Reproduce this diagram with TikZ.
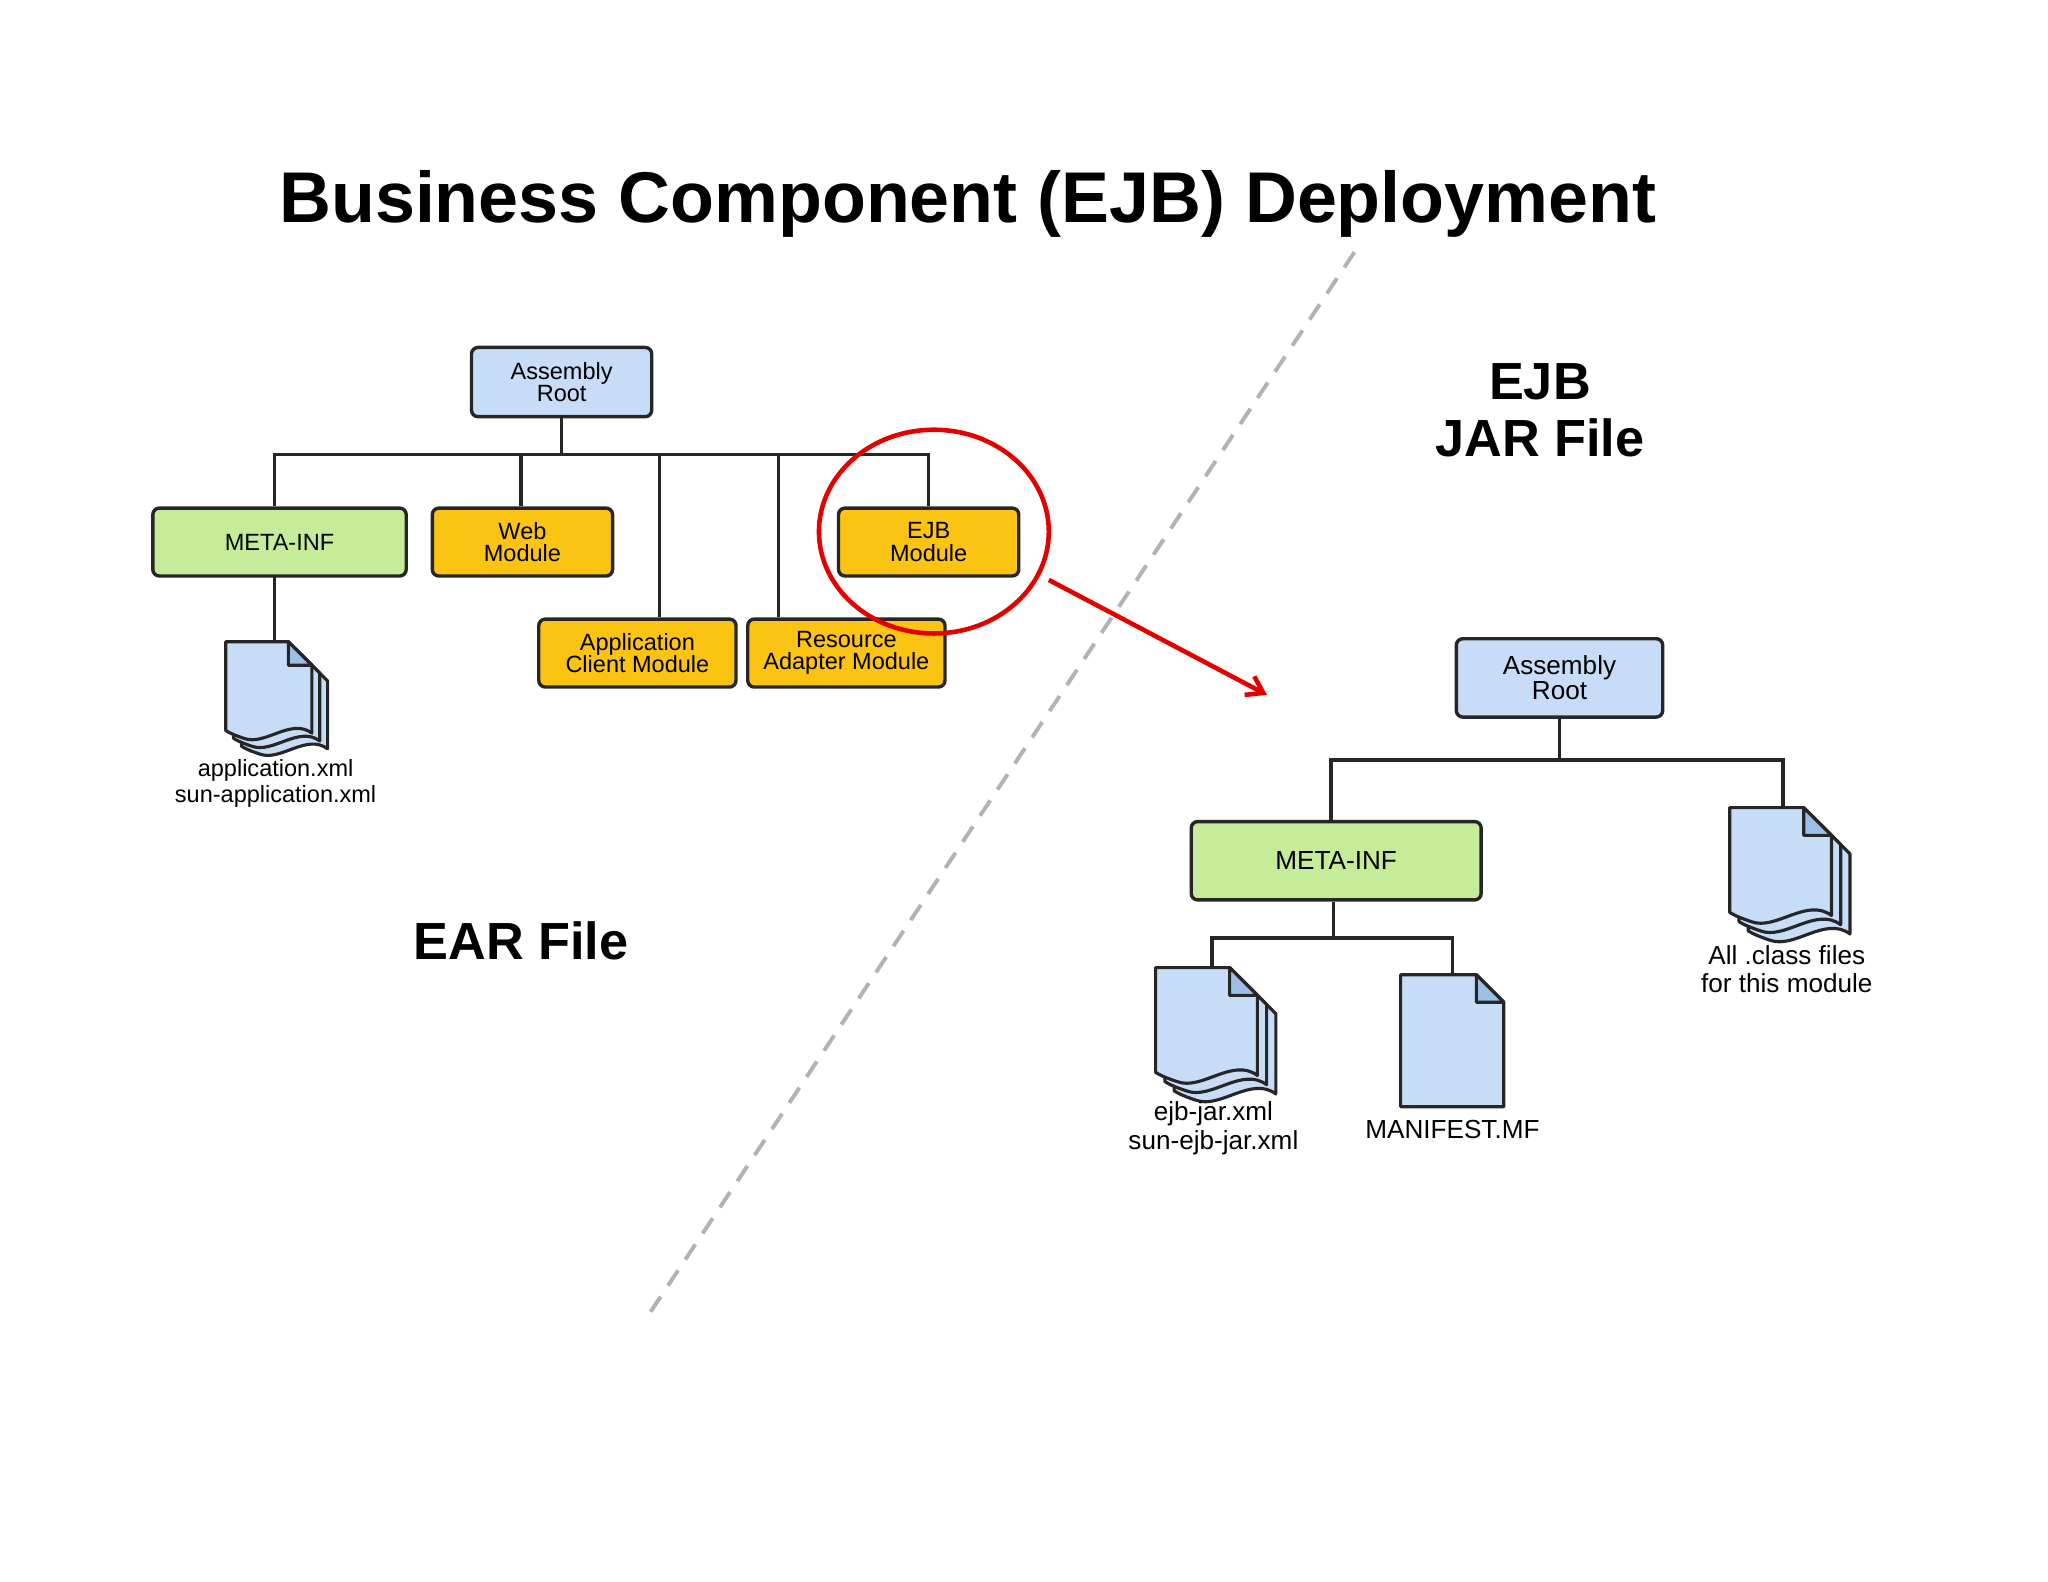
\documentclass[tikz,border=0pt]{standalone}
\usepackage{fontspec}
\setmainfont{Liberation Sans}
\usetikzlibrary{arrows.meta}
\definecolor{bl}{HTML}{C7DDF7}
\definecolor{bd}{HTML}{9DBEE6}
\definecolor{gr}{HTML}{C6EC9A}
\definecolor{og}{HTML}{FBC412}
\begin{document}
\begin{tikzpicture}[x=1pt,y=-1pt,
  box/.style={draw=black!85,line width=2.6pt,rounded corners=5pt,align=center,font=\fontsize{18}{17}\selectfont,inner sep=0pt},
  blue/.style={box,fill=bl},green/.style={box,fill=gr},orange/.style={box,fill=og},
  ln/.style={line width=2.6pt,black!85},
  lab/.style={align=center,font=\fontsize{18}{20}\selectfont},
  big/.style={font=\bfseries\fontsize{40}{44}\selectfont,align=center},
  page/.style={draw=black!85,line width=2.4pt,fill=bl,line join=round},
  pics/stackdoc/.style={code={
    \foreach \d in {12,6}{
      \path[page,shift={(\d,\d)}] (0,0)--(48,0)--(66,18)--(66,70) .. controls (50,58) and (30,80) .. (14,74) .. controls (8,72) and (3,70) .. (0,68)--cycle;}
    \path[page] (0,0)--(48,0)--(66,18)--(66,70) .. controls (50,58) and (30,80) .. (14,74) .. controls (8,72) and (3,70) .. (0,68)--cycle;
    \path[page,fill=bd] (48,0)--(48,18)--(66,18)--cycle;}},
  pics/singledoc/.style={code={
    \path[page] (0,0)--(58,0)--(79,21)--(79,101)--(0,101)--cycle;
    \path[page,fill=bd] (58,0)--(58,21)--(79,21)--cycle;}}
]
\useasboundingbox (0,0) rectangle (1568,1211);
\fill[white] (0,0) rectangle (1568,1211);
\node[font=\bfseries\fontsize{55}{58}\selectfont] (title) at (741,156) {Business Component (EJB) Deployment};
\coordinate (d1) at (1037,193); \coordinate (d2) at (493,1012);
\draw[gray!60,line width=3pt,dash pattern=on 14pt off 10pt] (d1)--(d2);

% EAR tree
\node[blue,minimum width=138,minimum height=53] (ar) at (430,292.5) {Assembly\\Root};
\node[green,minimum width=194,minimum height=52] (mi) at (214,415) {META-INF};
\node[orange,minimum width=138,minimum height=52] (wm) at (400,415) {Web\\Module};
\node[orange,minimum width=138,minimum height=52] (em) at (711,415) {EJB\\Module};
\node[orange,minimum width=151,minimum height=52] (ac) at (488,500) {Application\\Client Module};
\node[orange,minimum width=151,minimum height=52] (ra) at (648,500) {Resource\\Adapter Module};
\coordinate (bus) at (430,348);
\draw[ln] (ar.south)--(bus);
\draw[ln] (mi.north -| 210,0) |- (bus) -| (em.north);
\draw[ln] (wm.north -| 399,0) -- (399,348);
\draw[ln] (ac.north -| 505,0) -- (505,348);
\draw[ln] (ra.north -| 596,0) -- (596,348);
\node[minimum width=80,minimum height=83,inner sep=0] (doc1) at (213,533) {};
\pic at (doc1.north west) {stackdoc};
\draw[ln] (210,441) -- (210,492);
\node[lab] (l1) at (211,600) {application.xml\\sun-application.xml};
\node[big] (ear) at (399,720) {EAR File};

% highlight
\draw[red!90!black,line width=3.5pt] (715,407) ellipse [x radius=88,y radius=78];
\coordinate (a1) at (803,444); \coordinate (a2) at (970,532);
\draw[red!90!black,line width=3.5pt,-{Straight Barb[length=12pt,width=16pt]}] (a1)--(a2);
\node[big] (jar) at (1179,314) {EJB\\JAR File};

% JAR tree
\node[blue,minimum width=158,minimum height=60,font=\fontsize{20}{19}\selectfont] (ar2) at (1194,519) {Assembly\\Root};
\node[green,minimum width=222,minimum height=60,font=\fontsize{20}{20}\selectfont] (mi2) at (1023,659) {META-INF};
\node[minimum width=91,minimum height=91,inner sep=0] (doc2) at (1370,664) {};
\pic[scale=1.18] at (doc2.north west) {stackdoc};
\draw[ln] (ar2.south) -- (1194,582);
\draw[ln] (1019,629) |- (1365,582) -- (1365,619);
\node[lab,font=\fontsize{20}{22}\selectfont] (l2) at (1368,742) {All .class files\\for this module};
\node[minimum width=90,minimum height=94,inner sep=0] (doc3) at (930,788) {};
\pic[scale=1.18] at (doc3.north west) {stackdoc};
\node[minimum width=79,minimum height=101,inner sep=0] (doc4) at (1112,797) {};
\pic at (doc4.north west) {singledoc};
\draw[ln] (mi2.south -| 1021,0) -- (1021,718);
\draw[ln] (928,741) |- (1112,718) -- (1112,747);
\node[lab,font=\fontsize{20}{22}\selectfont] (l3) at (929,864) {ejb-jar.xml\\sun-ejb-jar.xml};
\node[lab,font=\fontsize{20}{22}\selectfont] (l4) at (1112,865) {MANIFEST.MF};
\end{tikzpicture}
\end{document}
